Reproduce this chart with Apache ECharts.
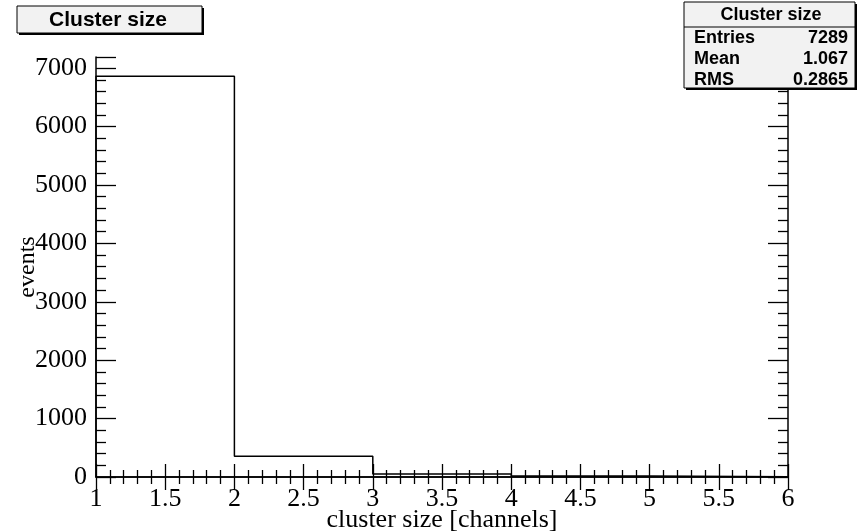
<!DOCTYPE html>
<html><head><meta charset="utf-8">
<script src="https://cdn.jsdelivr.net/npm/echarts@6/dist/echarts.min.js"></script>
<style>html,body{margin:0;padding:0;background:#fff}#c{width:859px;height:532px}</style>
</head><body><div id="c"></div>
<script>
// Histogram data
const binEdges = [1, 2, 3, 4, 5, 6];
const counts = [6860, 355, 50, 15, 5];
const xTicks = [1, 1.5, 2, 2.5, 3, 3.5, 4, 4.5, 5, 5.5, 6];
const yTicks = [0, 1000, 2000, 3000, 4000, 5000, 6000, 7000];
const statLabels = ['Entries', 'Mean', 'RMS'];
const statValues = ['7289', '1.067', '0.2865'];
const titleText = 'Cluster size';

// Build step outline points from bin edges and counts
const pts = [[binEdges[0], 0]];
for (let i = 0; i < counts.length; i++) pts.push([binEdges[i], counts[i]]);
pts.push([binEdges[binEdges.length - 1], counts[counts.length - 1]]);
pts.push([binEdges[binEdges.length - 1], 0]);

const serif = 'Liberation Serif';
const chart = echarts.init(document.getElementById('c'));
const lineStyle = {color: '#000', width: 1.5};
const tickStyle = {color: '#000', width: 1.3};
const yMax = 7190;
chart.setOption({
  animation: false,
  grid: {left: 96, right: 71, top: 57, bottom: 55, outerBoundsMode: 'none', containLabel: false},
  xAxis: [{
    type: 'value', min: xTicks[0], max: xTicks[xTicks.length - 1], interval: 0.5,
    axisLine: {lineStyle}, splitLine: {show: false},
    axisTick: {inside: true, length: 13, lineStyle: tickStyle},
    minorTick: {show: true, splitNumber: 5, length: 7, lineStyle: tickStyle},
    axisLabel: {color: '#000', fontFamily: serif, fontSize: 26, margin: 9},
    name: 'cluster size [channels]', nameLocation: 'middle', nameGap: 30, nameMoveOverlap: false,
    nameTextStyle: {color: '#000', fontFamily: serif, fontSize: 26}
  }, {
    type: 'value', position: 'top', min: xTicks[0], max: xTicks[xTicks.length - 1], interval: 0.5,
    axisLine: {show: true, lineStyle}, splitLine: {show: false},
    axisTick: {inside: true, length: 13, lineStyle: tickStyle},
    minorTick: {show: true, splitNumber: 5, length: 7, lineStyle: tickStyle},
    axisLabel: {show: false}
  }],
  yAxis: [{
    type: 'value', min: 0, max: yMax, interval: 1000,
    axisLine: {show: true, lineStyle}, splitLine: {show: false},
    axisTick: {inside: true, length: 20, lineStyle: tickStyle},
    minorTick: {show: true, splitNumber: 5, length: 10, lineStyle: tickStyle},
    axisLabel: {color: '#000', fontFamily: serif, fontSize: 26, margin: 9, showMaxLabel: false,
      formatter: v => (yTicks.indexOf(v) >= 0 ? String(v) : '')},
    name: 'events', nameLocation: 'middle', nameGap: 56, nameMoveOverlap: false,
    nameTextStyle: {color: '#000', fontFamily: serif, fontSize: 24}
  }, {
    type: 'value', position: 'right', min: 0, max: yMax, interval: 1000,
    axisLine: {show: true, lineStyle}, splitLine: {show: false},
    axisTick: {inside: true, length: 20, lineStyle: tickStyle},
    minorTick: {show: true, splitNumber: 5, length: 10, lineStyle: tickStyle},
    axisLabel: {show: false}
  }],
  series: [{
    type: 'line', step: 'end', data: pts, symbol: 'none',
    lineStyle: {color: '#000', width: 1.5}, xAxisIndex: 0, yAxisIndex: 0
  }],
  graphic: [
    {type: 'rect', shape: {x: 19, y: 8, width: 185, height: 27}, style: {fill: '#000'}, z: 10},
    {type: 'rect', shape: {x: 17, y: 6, width: 185, height: 27}, style: {fill: '#f2f2f2', stroke: '#000', lineWidth: 1}, z: 11},
    {type: 'text', x: 108, y: 20, z: 12, style: {text: titleText, font: 'bold 21px "Liberation Sans"', fill: '#000', align: 'center', verticalAlign: 'middle'}},
    {type: 'rect', shape: {x: 686, y: 4, width: 171, height: 86}, style: {fill: '#000'}, z: 10},
    {type: 'rect', shape: {x: 684, y: 2, width: 171, height: 86}, style: {fill: '#f2f2f2', stroke: '#000', lineWidth: 1}, z: 11},
    {type: 'line', shape: {x1: 684, y1: 27, x2: 855, y2: 27}, style: {stroke: '#000', lineWidth: 1.2}, z: 12},
    {type: 'text', x: 771, y: 15, z: 12, style: {text: titleText, font: 'bold 18px "Liberation Sans"', fill: '#000', align: 'center', verticalAlign: 'middle'}},
    ...statLabels.map((t, i) => ({type: 'text', x: 694, y: 38 + i * 21, z: 12,
      style: {text: t, font: 'bold 18px "Liberation Sans"', fill: '#000', align: 'left', verticalAlign: 'middle'}})),
    ...statValues.map((t, i) => ({type: 'text', x: 848, y: 38 + i * 21, z: 12,
      style: {text: t, font: 'bold 18px "Liberation Sans"', fill: '#000', align: 'right', verticalAlign: 'middle'}}))
  ]
});
</script></body></html>
